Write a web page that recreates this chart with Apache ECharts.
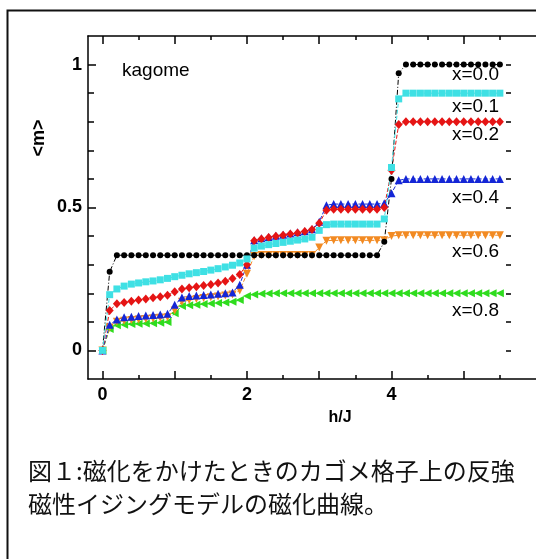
<!DOCTYPE html>
<html>
<head>
<meta charset="utf-8">
<title>kagome</title>
<script src="https://cdn.jsdelivr.net/npm/echarts@6/dist/echarts.min.js"></script>
<style>
    html, body { margin: 0; padding: 0; background: #fff; }
    #chart { width: 536px; height: 559px; }
</style>
</head>
<body>
<div id="chart"></div>
<script>
    // h/J values (same grid for every curve)
    var hJ = [
        0, 0.1, 0.2, 0.3, 0.4, 0.5, 0.6, 0.7, 0.8, 0.9,
        1.0, 1.1, 1.2, 1.3, 1.4, 1.5, 1.6, 1.7, 1.8, 1.9,
        2.0, 2.1, 2.2, 2.3, 2.4, 2.5, 2.6, 2.7, 2.8, 2.9,
        3.0, 3.1, 3.2, 3.3, 3.4, 3.5, 3.6, 3.7, 3.8, 3.9,
        4.0, 4.1, 4.2, 4.3, 4.4, 4.5, 4.6, 4.7, 4.8, 4.9,
        5.0, 5.1, 5.2, 5.3, 5.4, 5.5
    ];

    // <m> for x=0.0
    var m00 = [
        0, 0.275, 0.333, 0.333, 0.333, 0.333, 0.333, 0.333, 0.333, 0.333,
        0.333, 0.333, 0.333, 0.333, 0.333, 0.333, 0.333, 0.333, 0.333, 0.333,
        0.333, 0.333, 0.333, 0.333, 0.333, 0.333, 0.333, 0.333, 0.333, 0.333,
        0.333, 0.333, 0.333, 0.333, 0.333, 0.333, 0.333, 0.333, 0.333, 0.38,
        0.6, 0.97, 1, 1, 1, 1, 1, 1, 1, 1,
        1, 1, 1, 1, 1, 1
    ];
    // x=0.1
    var m01 = [
        0, 0.195, 0.215, 0.225, 0.232, 0.236, 0.240, 0.243, 0.247, 0.252,
        0.258, 0.263, 0.268, 0.272, 0.276, 0.281, 0.286, 0.292, 0.298, 0.306,
        0.320, 0.358, 0.365, 0.370, 0.374, 0.378, 0.382, 0.386, 0.390, 0.396,
        0.420, 0.440, 0.442, 0.442, 0.442, 0.442, 0.442, 0.442, 0.442, 0.460,
        0.640, 0.880, 0.9, 0.9, 0.9, 0.9, 0.9, 0.9, 0.9, 0.9,
        0.9, 0.9, 0.9, 0.9, 0.9, 0.9
    ];
    // x=0.2
    var m02 = [
        0, 0.140, 0.163, 0.168, 0.172, 0.176, 0.180, 0.184, 0.188, 0.193,
        0.205, 0.215, 0.219, 0.223, 0.227, 0.231, 0.236, 0.242, 0.252, 0.266,
        0.300, 0.384, 0.390, 0.395, 0.399, 0.403, 0.407, 0.411, 0.416, 0.423,
        0.445, 0.490, 0.494, 0.494, 0.494, 0.494, 0.494, 0.494, 0.494, 0.500,
        0.630, 0.790, 0.8, 0.8, 0.8, 0.8, 0.8, 0.8, 0.8, 0.8,
        0.8, 0.8, 0.8, 0.8, 0.8, 0.8
    ];
    // x=0.4
    var m04 = [
        0, 0.090, 0.108, 0.116, 0.118, 0.120, 0.122, 0.124, 0.126, 0.128,
        0.160, 0.185, 0.190, 0.192, 0.194, 0.196, 0.198, 0.200, 0.203, 0.230,
        0.300, 0.385, 0.392, 0.397, 0.401, 0.405, 0.409, 0.413, 0.417, 0.424,
        0.450, 0.508, 0.512, 0.512, 0.512, 0.512, 0.512, 0.512, 0.512, 0.515,
        0.550, 0.595, 0.6, 0.6, 0.6, 0.6, 0.6, 0.6, 0.6, 0.6,
        0.6, 0.6, 0.6, 0.6, 0.6, 0.6
    ];
    // x=0.6
    var m06 = [
        0, 0.080, 0.100, 0.104, 0.106, 0.108, 0.110, 0.112, 0.114, 0.116,
        0.140, 0.170, 0.176, 0.180, 0.183, 0.186, 0.189, 0.192, 0.196, 0.210,
        0.268, 0.330, 0.334, 0.334, 0.334, 0.334, 0.334, 0.334, 0.334, 0.334,
        0.360, 0.384, 0.385, 0.385, 0.385, 0.385, 0.385, 0.385, 0.385, 0.385,
        0.400, 0.403, 0.403, 0.403, 0.403, 0.403, 0.403, 0.403, 0.403, 0.403,
        0.403, 0.403, 0.403, 0.403, 0.403, 0.403
    ];
    // x=0.8
    var m08 = [
        0, 0.075, 0.088, 0.090, 0.092, 0.093, 0.094, 0.095, 0.097, 0.099,
        0.130, 0.155, 0.158, 0.160, 0.162, 0.164, 0.166, 0.168, 0.170, 0.176,
        0.190, 0.196, 0.198, 0.199, 0.2, 0.2, 0.2, 0.2, 0.2, 0.2,
        0.2, 0.2, 0.2, 0.2, 0.2, 0.2, 0.2, 0.2, 0.2, 0.2,
        0.2, 0.2, 0.2, 0.2, 0.2, 0.2, 0.2, 0.2, 0.2, 0.2,
        0.2, 0.2, 0.2, 0.2, 0.2, 0.2
    ];

    // ticks / labels
    var xMajor = [0, 1, 2, 3, 4, 5];
    var xMinor = [0.5, 1.5, 2.5, 3.5, 4.5, 5.5];
    var xLabels = [0, 2, 4];
    var yMajor = [0, 0.5, 1];
    var yMinor = [0, 0.1, 0.2, 0.3, 0.4, 0.5, 0.6, 0.7, 0.8, 0.9, 1];
    var yLabels = [0, 0.5, 1];
    var curveNames = ['x=0.0', 'x=0.1', 'x=0.2', 'x=0.4', 'x=0.6', 'x=0.8'];

    function pairs(ys) {
        return hJ.map(function (h, i) { return [h, ys[i]]; });
    }

    var FONT = '"Liberation Sans", Arial, sans-serif';
    var line = {show: true, onZero: false, lineStyle: {color: '#000', width: 1.5}};
    var noLine = {show: false, onZero: false};
    var tickStyle = {color: '#000', width: 1.5};
    var labelStyle = {color: '#000', fontSize: 18, fontWeight: 'bold', fontFamily: FONT};

    function xAx(pos, ticks, len, labels, showLine) {
        return {
            type: 'value', position: pos, min: -0.2, max: 6,
            axisLine: showLine ? line : noLine,
            splitLine: {show: false},
            axisTick: {show: true, inside: true, length: len, customValues: ticks, lineStyle: tickStyle},
            axisLabel: labels ? Object.assign({customValues: labels, margin: 7}, labelStyle) : {show: false}
        };
    }
    function yAx(pos, ticks, len, labels, offset, showLine) {
        return {
            type: 'value', position: pos, min: -0.1, max: 1.1, offset: offset || 0,
            axisLine: showLine ? line : noLine,
            splitLine: {show: false},
            axisTick: {show: true, inside: true, length: len, customValues: ticks, lineStyle: tickStyle},
            axisLabel: labels ? Object.assign({customValues: labels, margin: 6}, labelStyle) : {show: false}
        };
    }

    var chart = echarts.init(document.getElementById('chart'));
    var option = {
        animation: false,
        backgroundColor: '#fff',
        grid: {left: 88, top: 36, width: 459, height: 343},
        xAxis: [
            xAx('bottom', xMajor, 8, xLabels, true),
            xAx('bottom', xMinor, 4, null, false),
            xAx('top', xMajor, 8, null, true),
            xAx('top', xMinor, 4, null, false)
        ],
        yAxis: [
            yAx('left', yMajor, 8, yLabels, 0, true),
            yAx('left', yMinor, 6, null, 0, false),
            yAx('right', yMinor, 5, null, -25, false)
        ],
        series: [
            {
                name: curveNames[5], type: 'line', data: pairs(m08),
                symbol: 'triangle', symbolRotate: 90, symbolSize: 8,
                itemStyle: {color: '#2fdc1e'},
                lineStyle: {color: '#2fdc1e', width: 1, type: 'dashed'}
            },
            {
                name: curveNames[4], type: 'line', data: pairs(m06),
                symbol: 'triangle', symbolRotate: 180, symbolSize: 8,
                itemStyle: {color: '#f28a22'},
                lineStyle: {color: '#f28a22', width: 1, type: 'dashed'}
            },
            {
                name: curveNames[3], type: 'line', data: pairs(m04),
                symbol: 'triangle', symbolSize: 8,
                itemStyle: {color: '#1426d6'},
                lineStyle: {color: '#1426d6', width: 1, type: 'dashed'}
            },
            {
                name: curveNames[2], type: 'line', data: pairs(m02),
                symbol: 'diamond', symbolSize: [8, 9],
                itemStyle: {color: '#e51414'},
                lineStyle: {color: '#e51414', width: 1, type: 'dashed'}
            },
            {
                name: curveNames[0], type: 'line', data: pairs(m00),
                symbol: 'circle', symbolSize: 6,
                itemStyle: {color: '#000'},
                lineStyle: {color: '#000', width: 1, type: [5, 2, 1, 2]}
            },
            {
                name: curveNames[1], type: 'line', data: pairs(m01),
                symbol: 'rect', symbolSize: 7,
                itemStyle: {color: '#3fe0e4'},
                lineStyle: {color: '#3fe0e4', width: 1, type: 'dashed'}
            }
        ],
        graphic: [
            {
                type: 'rect', silent: true, z: -1,
                shape: {x: 7.5, y: 10.5, width: 700, height: 700},
                style: {fill: 'none', stroke: '#111', lineWidth: 2}
            },
            {
                type: 'text', x: 122, y: 71,
                style: {text: 'kagome', fill: '#000', fontSize: 19, fontFamily: FONT, verticalAlign: 'middle'}
            },
            {type: 'text', x: 452, y: 75, style: {text: curveNames[0], fill: '#000', fontSize: 19, fontFamily: FONT, verticalAlign: 'middle'}},
            {type: 'text', x: 452, y: 107, style: {text: curveNames[1], fill: '#000', fontSize: 19, fontFamily: FONT, verticalAlign: 'middle'}},
            {type: 'text', x: 452, y: 135, style: {text: curveNames[2], fill: '#000', fontSize: 19, fontFamily: FONT, verticalAlign: 'middle'}},
            {type: 'text', x: 452, y: 198, style: {text: curveNames[3], fill: '#000', fontSize: 19, fontFamily: FONT, verticalAlign: 'middle'}},
            {type: 'text', x: 452, y: 252, style: {text: curveNames[4], fill: '#000', fontSize: 19, fontFamily: FONT, verticalAlign: 'middle'}},
            {type: 'text', x: 452, y: 311, style: {text: curveNames[5], fill: '#000', fontSize: 19, fontFamily: FONT, verticalAlign: 'middle'}},
            {
                type: 'text', x: 340, y: 418,
                style: {text: 'h/J', fill: '#000', fontSize: 16, fontWeight: 'bold', fontFamily: FONT, align: 'center', verticalAlign: 'middle'}
            },
            {
                type: 'text', x: 39, y: 138, rotation: Math.PI / 2,
                style: {text: '<m>', fill: '#000', fontSize: 18, fontWeight: 'bold', fontFamily: FONT, align: 'center', verticalAlign: 'middle'}
            },
            {
                type: 'text', x: 28, y: 471,
                style: {text: '図１:磁化をかけたときのカゴメ格子上の反強', fill: '#111', fontSize: 24, fontFamily: '"Noto Sans CJK JP", sans-serif', verticalAlign: 'middle'}
            },
            {
                type: 'text', x: 28, y: 504,
                style: {text: '磁性イジングモデルの磁化曲線。', fill: '#111', fontSize: 24, fontFamily: '"Noto Sans CJK JP", sans-serif', verticalAlign: 'middle'}
            }
        ]
    };
    chart.setOption(option);
</script>
</body>
</html>
